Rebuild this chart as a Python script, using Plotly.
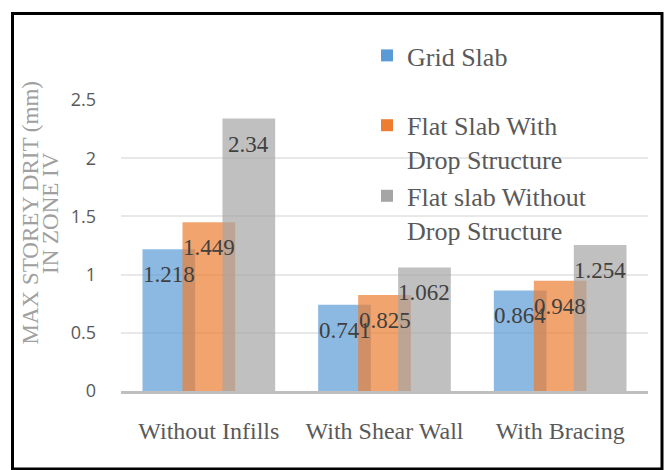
import plotly.graph_objects as go

# Storey drift values (mm), zone IV
categories = ["Without Infills", "With Shear Wall", "With Bracing"]
series_names = ["Grid Slab", "Flat Slab With<br>Drop Structure", "Flat slab Without<br>Drop Structure"]
grid_slab = [1.218, 0.741, 0.864]
flat_with_drop = [1.449, 0.825, 0.948]
flat_without_drop = [2.34, 1.062, 1.254]
y_ticks = [0, 0.5, 1, 1.5, 2, 2.5]

series_values = [grid_slab, flat_with_drop, flat_without_drop]
colors = ["#5B9BD5", "#ED7D31", "#A5A5A5"]
groups = ["g1", "g2", "g2"]

W, H = 669, 470
L, R, T, B = 121, 21, 100, 79
pw, ph = W - L - R, H - T - B

bar_w = 0.30
step = 0.2277          # overlapping bars: centre spacing smaller than bar width
step_px = step * pw / 3

serif = "Liberation Serif"

fig = go.Figure()
for i, (name, vals, col, grp) in enumerate(zip(series_names, series_values, colors, groups)):
    fig.add_trace(go.Bar(
        x=categories, y=vals, name=name,
        marker=dict(color=col, opacity=0.7, line=dict(width=0)),
        width=bar_w, offset=(i - 1) * step - bar_w / 2,
        legendgroup=grp,
        hoverinfo="x+y+name",
    ))

# value labels drawn on top of all bars
for i, vals in enumerate(series_values):
    for c, v in zip(categories, vals):
        fig.add_annotation(
            x=c, y=v, xref="x", yref="y", text=f"{v:g}", showarrow=False,
            xanchor="center", yanchor="top", xshift=(i - 1) * step_px, yshift=-11,
            font=dict(family=serif, size=23, color="#404040"),
        )

# pixel -> paper helpers
def px_x(p):
    return (p - L) / pw

def px_y(p):
    return (T + ph - p) / ph

# two-line vertical axis title
for txt, px in [("MAX STOREY DRIT (mm)", 29.5), ("IN ZONE IV", 50)]:
    fig.add_annotation(
        x=px_x(px), y=px_y(213), xref="paper", yref="paper",
        text=txt, textangle=-90, showarrow=False, xanchor="center", yanchor="middle",
        font=dict(family=serif, size=23, color="#A0A0A0"),
    )

# outer frame
fig.add_shape(type="rect", xref="paper", yref="paper",
              x0=px_x(12.5), x1=px_x(662), y0=px_y(469), y1=px_y(13.5),
              line=dict(color="black", width=3), fillcolor="rgba(0,0,0,0)", layer="above")

fig.update_layout(
    width=W, height=H,
    margin=dict(l=L, r=R, t=T, b=B, pad=0),
    barmode="overlay",
    plot_bgcolor="white", paper_bgcolor="white",
    showlegend=True,
    legend=dict(
        x=px_x(367), y=px_y(32), xanchor="left", yanchor="top",
        bgcolor="rgba(0,0,0,0)", font=dict(family=serif, size=26, color="#595959"),
        valign="top", tracegroupgap=33, traceorder="grouped",
    ),
    xaxis=dict(
        type="category", showgrid=False, showline=True, linecolor="#BFBFBF", linewidth=2.5,
        ticks="", ticklabelstandoff=16,
        tickfont=dict(family=serif, size=24, color="#595959"),
        fixedrange=True,
    ),
    yaxis=dict(
        range=[0, 2.5], tickvals=y_ticks, ticktext=[f"{t:g}" for t in y_ticks],
        showgrid=True, gridcolor="#E8E8E8", gridwidth=1.5, zeroline=False, showline=False,
        ticks="", ticklabelstandoff=24,
        tickfont=dict(family="Open Sans", size=18, color="#595959"),
        fixedrange=True,
    ),
)

fig.write_html("out.html")
